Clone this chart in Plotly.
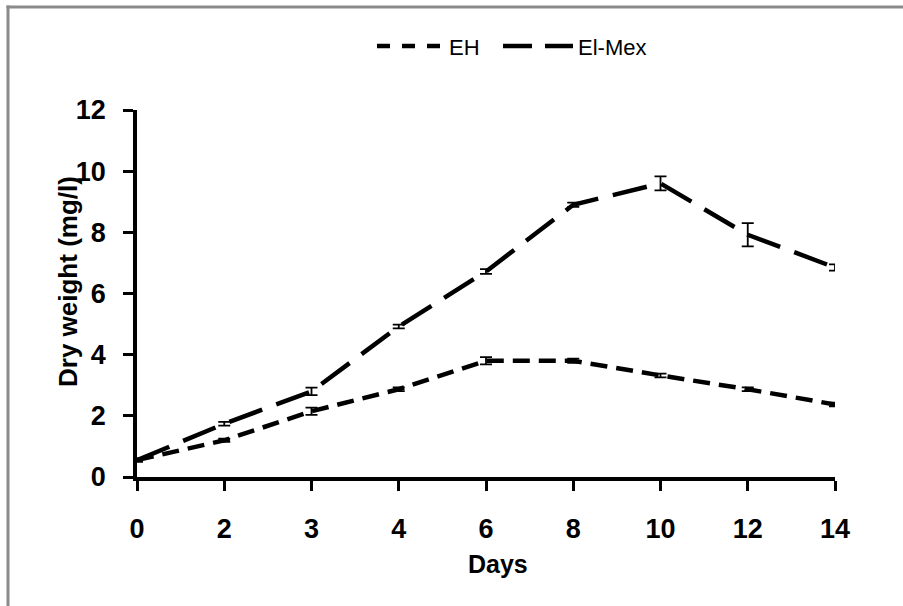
import plotly.graph_objects as go

days = ["0", "2", "3", "4", "6", "8", "10", "12", "14"]
eh = [0.55, 1.2, 2.15, 2.87, 3.8, 3.8, 3.32, 2.87, 2.37]
eh_err = [0.05, 0.05, 0.12, 0.06, 0.12, 0.07, 0.06, 0.06, 0.06]
elmex = [0.55, 1.74, 2.8, 4.92, 6.72, 8.9, 9.6, 7.92, 6.85]
elmex_err = [0.05, 0.06, 0.12, 0.06, 0.08, 0.07, 0.23, 0.38, 0.1]
y_ticks = [0, 2, 4, 6, 8, 10, 12]

W, H = 903, 606
L, R, T, B = 137, 68, 110, 129
pw, ph = W - L - R, H - T - B

def px(x):
    return (x - L) / pw

def py(y):
    return (H - B - y) / ph

FONT = "Liberation Sans, Arial, sans-serif"
tick_font = dict(family=FONT, size=27, color="black", weight="bold")

fig = go.Figure()
fig.add_trace(go.Scatter(
    x=days, y=eh, mode="lines", name="EH",
    line=dict(color="black", width=4.5, dash="17px,9px"),
    error_y=dict(type="data", array=eh_err, visible=True, color="black", thickness=1.8, width=6),
    showlegend=False,
))
fig.add_trace(go.Scatter(
    x=days, y=elmex, mode="lines", name="El-Mex",
    line=dict(color="black", width=4.5, dash="35px,15px"),
    error_y=dict(type="data", array=elmex_err, visible=True, color="black", thickness=1.8, width=6),
    showlegend=False,
))

shapes = []
# outer gray frame (top and left only)
shapes.append(dict(type="line", xref="paper", yref="paper", x0=px(6.5), x1=px(903), y0=py(7), y1=py(7),
                   line=dict(color="#8a8a8a", width=3)))
shapes.append(dict(type="line", xref="paper", yref="paper", x0=px(8), x1=px(8), y0=py(5.5), y1=py(606),
                   line=dict(color="#8a8a8a", width=3)))
# manual legend samples
shapes.append(dict(type="line", xref="paper", yref="paper", x0=px(377), x1=px(444), y0=py(46), y1=py(46),
                   line=dict(color="black", width=4.5, dash="13px,12px")))
shapes.append(dict(type="line", xref="paper", yref="paper", x0=px(503), x1=px(573), y0=py(46), y1=py(46),
                   line=dict(color="black", width=4.5, dash="29px,13px")))

annotations = [
    dict(text="EH", xref="paper", yref="paper", x=px(447), y=py(47), xanchor="left", yanchor="middle",
         showarrow=False, font=dict(family=FONT, size=22, color="black")),
    dict(text="El-Mex", xref="paper", yref="paper", x=px(576), y=py(47), xanchor="left", yanchor="middle",
         showarrow=False, font=dict(family=FONT, size=22, color="black")),
    dict(text="Days", xref="paper", yref="paper", x=px(498), y=py(564), xanchor="center", yanchor="middle",
         showarrow=False, font=dict(family=FONT, size=25, color="black", weight="bold")),
    dict(text="Dry weight (mg/l)", xref="paper", yref="paper", x=px(68), y=py(282), xanchor="center",
         yanchor="middle", textangle=-90, showarrow=False,
         font=dict(family=FONT, size=26, color="black", weight="bold")),
]

fig.update_layout(
    width=W, height=H,
    margin=dict(l=L, r=R, t=T, b=B),
    paper_bgcolor="white", plot_bgcolor="white",
    shapes=shapes, annotations=annotations,
    showlegend=False,
)
fig.update_xaxes(
    type="category", range=[0, len(days) - 1],
    showline=True, linecolor="black", linewidth=3.5,
    ticks="outside", ticklen=10, tickwidth=3, tickcolor="black",
    showgrid=False, zeroline=False,
    tickfont=tick_font, ticklabelstandoff=15,
)
fig.update_yaxes(
    range=[0, 12], tickvals=y_ticks,
    showline=True, linecolor="black", linewidth=3.5,
    ticks="outside", ticklen=10, tickwidth=3, tickcolor="black",
    showgrid=False, zeroline=False,
    tickfont=tick_font, ticklabelstandoff=12,
)

fig.write_html(
    "out.html",
    config={"displayModeBar": False},
    post_script="document.body.style.margin='0px';document.body.style.overflow='hidden';",
)
